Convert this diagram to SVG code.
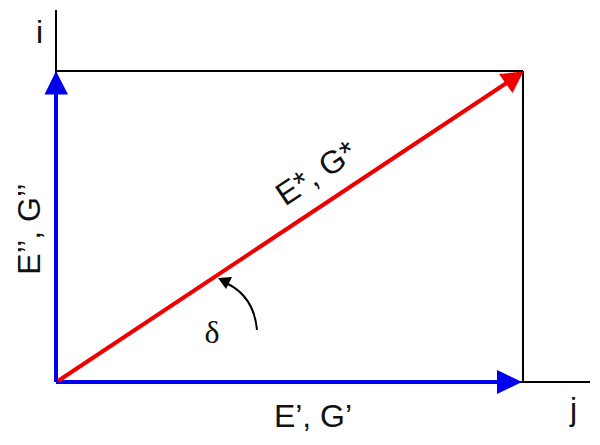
<svg xmlns="http://www.w3.org/2000/svg" width="600" height="445" viewBox="0 0 600 445">
<style>
.ax{stroke:#000;stroke-width:2;fill:none}
.bl{stroke:#0000ee;stroke-width:4;fill:none}
.rd{stroke:#ee0000;stroke-width:4;fill:none}
.t{font-family:"Liberation Sans",Arial,sans-serif;font-size:32px;fill:#111}
.s{font-family:"Liberation Serif","Times New Roman",serif;font-size:32px;fill:#111}
</style>
<rect width="600" height="445" fill="#fff"/>
<g id="axes">
<line class="ax" x1="56" y1="10" x2="56" y2="382"/>
<line class="ax" x1="56" y1="382" x2="590" y2="382"/>
<line class="ax" x1="56" y1="71" x2="523" y2="71"/>
<line class="ax" x1="523" y1="71" x2="523" y2="382"/>
<text class="t" x="36" y="43">i</text>
<text class="t" x="570" y="420">j</text>
</g>
<g id="connectors">
<line class="bl" x1="56" y1="382" x2="56" y2="92"/>
<polygon fill="#0000ee" points="56,71 44.5,94.5 68,94.5"/>
<line class="bl" x1="56" y1="382" x2="500" y2="382"/>
<polygon fill="#0000ee" points="522,382 497,370 497,394"/>
<line class="rd" x1="58" y1="381" x2="508" y2="82"/>
<polygon fill="#ee0000" points="523.5,71.5 499,74 512.5,93"/>
<path d="M257,330 Q254,296 226,283" stroke="#000" stroke-width="2" fill="none"/>
<polygon fill="#000" points="218,278 232,277 226,289"/>
</g>
<g id="labels">
<text class="t" x="313" y="427" text-anchor="middle">E’, G’</text>
<text class="t" text-anchor="middle" transform="translate(40,229) rotate(-90)">E’’, G’’</text>
<text class="t" text-anchor="middle" transform="translate(322,182) rotate(-33.7)">E*, G*</text>
<text class="s" x="212" y="343" text-anchor="middle">δ</text>
</g>
</svg>
